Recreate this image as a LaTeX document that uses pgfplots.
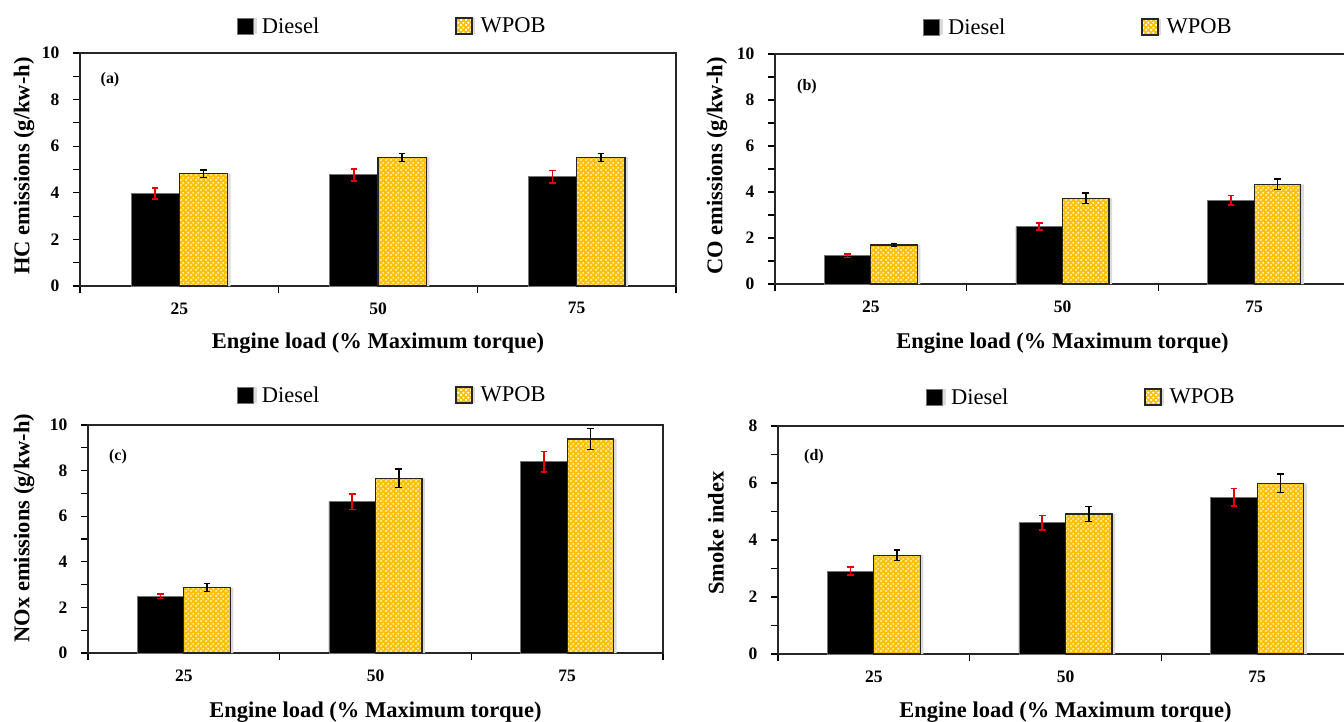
\documentclass[border=0pt]{standalone}
\usepackage{fontspec}
\setmainfont{Liberation Serif}
\usepackage{pgfplots}
\pgfplotsset{compat=1.18}
\usetikzlibrary{patterns}
\definecolor{gold}{HTML}{FFC000}
\definecolor{errred}{HTML}{E60000}
\pgfdeclarepatternformonly{checker}{\pgfqpoint{0pt}{0pt}}{\pgfqpoint{5pt}{5pt}}{\pgfqpoint{5pt}{5pt}}{%
  \pgfpathcircle{\pgfqpoint{1.25pt}{1.25pt}}{1.15pt}%
  \pgfpathcircle{\pgfqpoint{3.75pt}{3.75pt}}{1.15pt}%
  \pgfusepath{fill}}
\tikzset{plabel/.style={font=\bfseries\fontsize{16}{16}\selectfont}}
\pgfplotsset{
  panel/.style={
    scale only axis, anchor=south west,
    ybar=0pt, bar width=0.243,
    xmin=-0.5, xmax=2.5, ymin=0,
    xtick={-0.5,0.5,1.5,2.5}, xticklabels={},
    extra x ticks={0,1,2}, extra x tick labels={25,50,75},
    extra x tick style={major tick length=0pt},
    ytick pos=left, xtick pos=bottom, tick align=outside,
    minor y tick num=1, major tick length=7pt, minor tick length=7pt,
    tick style={black, line width=1.1pt},
    axis line style={black!85, line width=1.1pt},
    /pgf/number format/assume math mode=true,
    ticklabel style={font=\bfseries\fontsize{17.5}{17.5}\selectfont},
    yticklabel style={xshift=-10pt},
    xticklabel style={yshift=-13pt},
    xlabel={Engine load (\% Maximum torque)},
    label style={font=\bfseries\fontsize{22.5}{24}\selectfont},
    legend columns=2,
    legend style={draw=none, fill=none, inner sep=0pt, anchor=west,
      font=\fontsize{22.5}{24}\selectfont,
      nodes={inner sep=1pt},
      /tikz/every odd column/.append style={column sep=7pt},
      /tikz/every even column/.append style={column sep=135pt}},
  },
  diesel/.style={fill=black, draw=black!55, line width=0.8pt,
    preaction={draw=none, fill=black!14, transform canvas={xshift=3pt}},
    legend image code/.code={\draw[fill=black, draw=black!55, line width=0.8pt] (0pt,-8pt) rectangle (16pt,8pt);},
    error bars/.cd, y dir=both, y explicit,
    error bar style={errred, line width=1.5pt},
    error mark options={rotate=90, errred, mark size=3.3pt, line width=1.5pt}},
  wpob/.style={fill=gold, postaction={pattern=checker, pattern color=white}, draw=black!85, line width=1.2pt,
    preaction={draw=none, fill=black!14, transform canvas={xshift=3pt}},
    legend image code/.code={\draw[fill=gold, postaction={pattern=checker, pattern color=white}, draw=black!85, line width=1.2pt] (0pt,-8pt) rectangle (16pt,8pt);},
    error bars/.cd, y dir=both, y explicit,
    error bar style={black, line width=1.5pt},
    error mark options={rotate=90, black, mark size=3.3pt, line width=1.5pt}},
}
\begin{document}
\begin{tikzpicture}
\path[use as bounding box, clip] (0,0) rectangle (1344pt,-721pt);
% (a)
\begin{axis}[panel, at={(80pt,-286pt)}, width=596pt, height=233pt,
  ymax=10, ytick={0,2,...,10},
  ylabel={HC emissions (g/kw-h)},
  ylabel style={at={(axis description cs:-0.094,0.515)}, anchor=center},
  xlabel style={at={(axis description cs:0.5,-0.2446)}, anchor=center},
  legend style={at={(axis description cs:0.2634,1.1159)}}]
\addplot[diesel] table[x=x, y=y, y error=e] {
x y e
0 3.97 0.24
1 4.77 0.26
2 4.69 0.27
};
\addplot[wpob] table[x=x, y=y, y error=e] {
x y e
0 4.82 0.16
1 5.52 0.17
2 5.52 0.17
};
\legend{Diesel,WPOB}
\node[plabel] at ([xshift=30pt,yshift=-27pt]rel axis cs:0,1) {(a)};
\end{axis}
% (b)
\begin{axis}[panel, at={(775pt,-284pt)}, width=575pt, height=230pt,
  ymax=10, ytick={0,2,...,10},
  ylabel={CO emissions (g/kw-h)},
  ylabel style={at={(axis description cs:-0.1009,0.513)}, anchor=center},
  xlabel style={at={(axis description cs:0.5,-0.2565)}, anchor=center},
  legend style={at={(axis description cs:0.2574,1.1174)}}]
\addplot[diesel] table[x=x, y=y, y error=e] {
x y e
0 1.23 0.07
1 2.50 0.16
2 3.64 0.20
};
\addplot[wpob] table[x=x, y=y, y error=e] {
x y e
0 1.70 0.07
1 3.73 0.22
2 4.33 0.23
};
\legend{Diesel,WPOB}
\node[plabel] at ([xshift=32pt,yshift=-33pt]rel axis cs:0,1) {(b)};
\end{axis}
% (c)
\begin{axis}[panel, at={(88pt,-653pt)}, width=575pt, height=228pt,
  ymax=10, ytick={0,2,...,10},
  ylabel={NOx emissions (g/kw-h)},
  ylabel style={at={(axis description cs:-0.1113,0.548)}, anchor=center},
  xlabel style={at={(axis description cs:0.5,-0.2588)}, anchor=center},
  legend style={at={(axis description cs:0.2591,1.1316)}}]
\addplot[diesel] table[x=x, y=y, y error=e] {
x y e
0 2.48 0.10
1 6.64 0.34
2 8.39 0.44
};
\addplot[wpob] table[x=x, y=y, y error=e] {
x y e
0 2.87 0.18
1 7.66 0.40
2 9.39 0.46
};
\legend{Diesel,WPOB}
\node[plabel] at ([xshift=30pt,yshift=-32pt]rel axis cs:0,1) {(c)};
\end{axis}
% (d)
\begin{axis}[panel, at={(778pt,-654pt)}, width=575pt, height=228pt,
  ymax=8, ytick={0,2,...,8},
  ylabel={Smoke index},
  ylabel style={at={(axis description cs:-0.1078,0.531)}, anchor=center},
  xlabel style={at={(axis description cs:0.5,-0.2544)}, anchor=center},
  legend style={at={(axis description cs:0.2574,1.1272)}}]
\addplot[diesel] table[x=x, y=y, y error=e] {
x y e
0 2.91 0.14
1 4.61 0.25
2 5.50 0.30
};
\addplot[wpob] table[x=x, y=y, y error=e] {
x y e
0 3.47 0.18
1 4.91 0.26
2 5.99 0.32
};
\legend{Diesel,WPOB}
\node[plabel] at ([xshift=36pt,yshift=-31pt]rel axis cs:0,1) {(d)};
\end{axis}
\end{tikzpicture}
\end{document}
